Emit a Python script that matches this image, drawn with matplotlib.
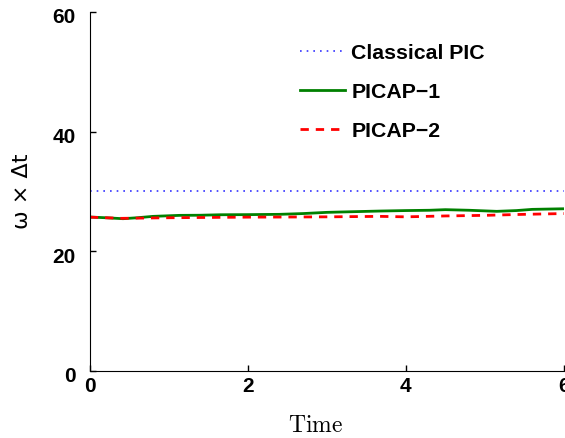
import numpy as np
import matplotlib
matplotlib.use("Agg")
import matplotlib.pyplot as plt
from matplotlib.transforms import ScaledTranslation

plt.rcParams["mathtext.fontset"] = "cm"

# Time samples and omega*dt for each scheme
t_classical = [0.0, 6.0]
w_classical = [30.0, 30.0]

t_picap1 = [0.0, 0.2, 0.42, 0.6, 0.8, 1.14, 1.4, 1.65, 2.0, 2.4, 2.7, 3.0, 3.3,
            3.67, 4.0, 4.3, 4.5, 4.8, 5.15, 5.4, 5.6, 5.8, 6.0]
w_picap1 = [25.72, 25.6, 25.44, 25.6, 25.83, 26.0, 26.02, 26.1, 26.12, 26.17, 26.3,
            26.5, 26.6, 26.72, 26.8, 26.85, 26.95, 26.85, 26.67, 26.8, 27.0, 27.05, 27.1]

t_picap2 = [0.0, 0.4, 1.0, 1.5, 2.0, 2.5, 3.0, 3.67, 4.0, 4.5, 5.0, 5.5, 6.0]
w_picap2 = [25.7, 25.5, 25.6, 25.65, 25.7, 25.72, 25.75, 25.83, 25.75, 25.9, 26.0, 26.17, 26.3]

x_ticks = [0, 2, 4, 6]
y_ticks = [0, 20, 40, 60]

fig = plt.figure(figsize=(5.65, 4.38), dpi=100)
ax = fig.add_axes([0.159, 0.153, 0.839, 0.820])

ax.plot(t_classical, w_classical, color="#3333ff", linestyle=(0, (1, 3)), linewidth=1.2,
        label="Classical PIC")
ax.plot(t_picap1, w_picap1, color="#008000", linestyle="-", linewidth=2.0, label="PICAP\u22121")
ax.plot(t_picap2, w_picap2, color="#ff0000", linestyle=(0, (3, 2.5)), linewidth=2.0,
        label="PICAP\u22122")

ax.set_xlim(0, 6)
ax.set_ylim(0, 60)
ax.set_xticks(x_ticks)
ax.set_yticks(y_ticks)
ax.spines["top"].set_visible(False)
ax.spines["right"].set_visible(False)
ax.tick_params(direction="in", length=4, width=1)
ax.tick_params(axis="x", pad=4)
ax.tick_params(axis="y", pad=10)
for lbl in ax.get_xticklabels() + ax.get_yticklabels():
    lbl.set_fontfamily("Liberation Sans")
    lbl.set_fontweight("bold")
    lbl.set_fontsize(15)
# y tick labels sit slightly below their ticks
shift_down = ScaledTranslation(0, -2.8 / 72, fig.dpi_scale_trans)
for lbl in ax.get_yticklabels():
    lbl.set_transform(lbl.get_transform() + shift_down)

ax.set_xlabel(r"$\mathrm{Time}$", fontsize=17)
ax.xaxis.set_label_coords(0.477, -0.15)
ax.xaxis.label.set_va("center")
ax.set_ylabel("\u03c9 \u00d7 \u0394t", fontsize=16, fontfamily="DejaVu Sans")
ax.yaxis.set_label_coords(-0.144, 0.5)
ax.yaxis.label.set_va("center")

leg = ax.legend(loc="upper left", bbox_to_anchor=(0.4035, 0.965), frameon=False,
                handlelength=2.1, handletextpad=0.3, labelspacing=0.95,
                prop={"family": "Liberation Sans", "weight": "bold", "size": 15.3})

fig.savefig("out.png", dpi=100)
